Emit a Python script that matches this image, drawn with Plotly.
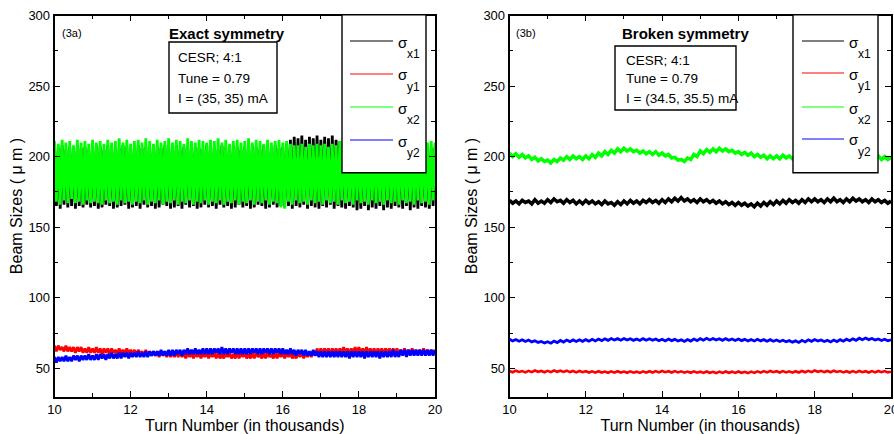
import numpy as np
import plotly.graph_objects as go

W, H = 894, 434

# ---------------- data ----------------
# Panel (3a): turn numbers (thousands), 201 samples between 10 and 20
turns_a = np.linspace(10, 20, 201)
sx1_a = [207,165,206,163,208,166,205,164,207,165,206,163,208,165,206,164,207,166,205,164,
         206,165,208,163,207,164,205,166,208,165,206,163,207,164,206,165,208,166,207,163,
         205,164,207,165,208,163,206,166,207,164,205,165,208,163,207,164,206,166,208,165,
         207,163,206,164,208,165,205,163,207,166,206,164,208,165,207,163,206,164,205,166,
         208,164,206,165,207,163,205,166,208,164,207,165,206,163,208,164,207,166,205,164,
         207,165,206,163,208,164,207,166,205,165,208,163,206,164,207,166,208,164,206,165,
         207,164,209,165,212,163,214,165,213,164,215,166,212,163,214,165,213,164,215,163,
         212,165,214,164,213,166,215,163,212,165,211,164,208,163,207,165,206,164,208,162,
         207,163,206,165,208,162,207,164,205,163,208,165,207,162,206,164,208,163,207,165,
         206,164,208,163,207,165,206,162,208,164,207,163,206,165,208,164,207,163,206,165,
         207]
sy1_a = [66,62,66,63,65,62,66,62,65,62,65,61,65,62,65,61,64,61,65,61,
         64,61,65,61,64,60,64,61,64,60,64,61,63,60,64,60,63,60,64,60,
         63,60,63,59,63,60,62,59,63,59,62,59,62,59,62,58,62,59,62,58,
         62,58,61,58,62,58,61,58,61,57,61,58,61,57,61,58,61,57,61,58,
         61,57,61,58,61,57,61,57,60,57,61,58,61,57,60,57,61,57,61,58,
         61,57,60,57,61,57,61,58,60,57,61,57,61,58,60,57,61,57,61,58,
         61,57,61,58,61,57,60,57,61,58,61,57,61,58,61,58,62,59,64,60,
         64,60,64,61,64,60,64,61,64,60,64,61,65,61,64,60,64,61,65,61,
         65,61,64,60,65,61,64,61,64,60,64,61,64,60,64,61,64,60,64,60,
         64,60,63,60,64,60,63,60,64,60,63,60,63,60,64,60,63,60,63,60,
         63]
sx2_a = [211,168,209,166,212,169,210,167,211,170,208,167,212,168,210,166,211,169,209,167,
         212,168,210,167,211,166,209,169,212,167,210,168,211,166,213,169,210,167,212,168,
         209,166,211,168,212,167,210,169,213,166,211,168,209,167,212,169,210,166,211,168,
         213,167,210,169,212,166,211,168,209,167,213,169,211,166,210,168,212,167,211,169,
         210,166,212,168,211,167,213,169,210,166,212,168,209,167,211,169,212,166,210,168,
         211,167,213,169,210,166,212,168,211,167,209,169,212,166,210,168,211,167,212,164,
         210,163,211,168,209,166,208,169,208,167,209,168,207,166,209,169,208,167,209,168,
         208,166,209,169,207,167,209,168,208,166,211,169,212,167,210,168,211,166,212,169,
         210,167,211,168,212,166,209,169,211,167,212,168,210,166,211,169,212,167,210,168,
         211,166,212,169,210,167,211,168,212,166,209,169,211,167,212,168,210,166,211,169,
         210]
sy2_a = [58,54,58,55,58,55,59,55,58,55,59,56,59,55,59,56,59,56,60,56,
         59,56,60,56,60,57,60,56,60,57,61,57,60,57,61,57,61,58,61,57,
         61,58,61,58,62,58,61,58,62,58,62,59,62,59,62,59,63,59,62,59,
         63,59,63,59,63,60,63,59,63,60,64,60,63,60,64,60,63,60,64,60,
         64,60,64,60,64,61,64,60,65,60,64,60,64,61,64,60,64,60,64,60,
         64,60,64,60,64,61,64,60,64,60,64,61,64,60,64,60,64,61,64,60,
         64,60,63,60,64,60,63,59,63,60,63,59,63,59,62,59,63,59,62,58,
         62,58,62,58,62,58,62,58,62,58,62,58,62,58,62,57,62,58,62,58,
         62,58,62,57,62,58,62,58,62,58,62,57,62,58,62,58,62,58,63,58,
         62,58,63,59,63,58,63,59,63,59,63,59,63,59,63,59,63,59,63,59,
         63]

# Panel (3b): 121 samples between 10 and 20
turns_b = np.linspace(10, 20, 121)
sx1_b = [169.0,167.0,168.5,166.5,169.0,167.5,168.5,166.5,169.5,167.0,168.5,167.0,
         169.5,167.5,170.0,168.0,169.0,167.0,169.5,167.5,169.0,166.5,168.5,166.5,
         169.0,167.0,168.5,166.5,168.0,166.0,168.5,166.5,167.5,165.5,168.0,166.0,
         168.5,166.5,169.0,167.0,168.5,166.5,169.0,167.5,169.5,167.5,169.0,167.0,
         169.5,167.5,170.0,168.0,170.5,168.5,171.0,168.5,170.0,168.0,169.5,167.5,
         170.0,168.0,169.5,167.5,169.0,167.0,168.5,166.5,168.0,166.0,167.5,165.5,
         167.5,165.5,167.0,165.0,166.5,164.5,167.0,165.0,167.5,165.5,168.0,166.0,
         168.5,166.5,169.0,167.0,169.5,167.5,169.0,167.0,169.5,167.5,170.0,168.0,
         170.0,168.0,169.5,167.5,170.0,168.0,170.5,168.0,169.5,167.5,170.0,168.0,
         170.5,168.5,170.0,168.0,169.5,167.5,170.0,168.0,169.5,167.5,169.0,167.0,
         168.5]
sy1_b = [48.1,47.2,48.3,47.4,48.0,47.1,48.2,47.3,48.4,47.5,48.1,47.2,
         48.2,47.3,48.4,47.5,48.3,47.4,48.3,47.3,48.1,47.1,48.1,47.2,
         47.9,47.0,47.8,46.9,47.9,47.0,47.7,46.8,47.8,46.9,47.9,47.0,
         47.7,46.8,47.8,46.9,47.6,46.7,47.8,46.9,47.9,47.0,48.0,47.1,
         48.1,47.2,47.9,47.0,48.0,47.1,47.8,46.9,47.7,46.8,47.8,46.9,
         47.6,46.7,47.7,46.8,47.5,46.6,47.6,46.7,47.7,46.8,47.6,46.7,
         47.7,46.8,47.5,46.6,47.6,46.7,47.8,46.9,48.0,47.1,48.1,47.2,
         47.9,47.0,48.0,47.1,47.8,46.9,47.9,47.0,48.1,47.2,48.2,47.3,
         48.4,47.5,48.2,47.3,48.1,47.2,48.3,47.4,48.0,47.1,47.9,47.0,
         48.0,47.1,48.1,47.2,47.9,47.0,48.0,47.1,48.1,47.2,48.0,47.1,
         47.6]
sx2_b = [202.5,200.0,202.0,199.5,201.5,199.0,200.5,198.0,199.5,197.0,198.5,196.5,
         197.5,195.5,198.0,196.5,199.0,197.5,200.0,198.0,200.5,198.5,200.0,198.0,
         200.5,198.5,201.5,199.5,202.5,200.5,203.5,201.5,204.5,202.5,205.5,203.5,
         206.0,204.0,205.5,203.5,204.5,202.5,204.0,202.0,203.5,201.5,203.5,201.0,
         202.5,200.5,201.5,199.0,199.5,197.5,198.0,196.5,199.0,198.0,201.5,200.0,
         204.0,202.0,205.0,203.0,205.5,203.5,206.0,204.0,205.5,203.5,204.5,202.5,
         203.5,201.5,203.0,201.0,202.5,200.0,201.5,199.5,201.0,198.5,200.5,198.5,
         200.5,198.5,201.0,199.0,200.5,198.5,201.0,199.0,200.5,198.5,201.0,199.0,
         201.0,199.0,200.5,198.5,201.0,199.0,201.5,199.5,201.0,199.0,200.5,198.5,
         201.0,199.0,201.5,199.5,201.0,198.5,200.5,198.5,200.5,198.0,200.0,198.0,
         199.5]
sy2_b = [70.5,69.3,70.4,69.2,70.2,69.0,70.0,68.7,69.5,68.3,69.0,67.9,
         68.8,67.8,69.3,68.2,69.7,68.6,70.0,68.9,70.1,69.0,70.2,69.1,
         70.3,69.2,70.5,69.4,70.7,69.6,70.9,69.8,71.1,70.0,71.0,69.9,
         71.1,70.0,70.9,69.8,70.8,69.7,71.0,69.9,70.9,69.8,70.7,69.5,
         70.6,69.4,70.7,69.6,70.5,69.3,70.2,69.0,70.4,69.3,70.7,69.6,
         71.0,69.9,71.2,70.1,71.1,70.0,70.9,69.8,71.0,69.9,70.8,69.7,
         70.7,69.6,70.5,69.4,70.4,69.3,70.5,69.4,70.3,69.2,70.3,69.2,
         70.1,69.0,69.9,68.8,69.6,68.5,69.4,68.3,69.8,68.7,70.2,69.1,
         70.4,69.3,70.1,69.0,69.8,68.7,70.0,68.9,70.3,69.2,70.6,69.5,
         70.9,69.8,71.3,70.2,71.4,70.3,71.1,70.0,70.8,69.7,70.6,69.5,
         70.2]

series_sub = ["x1", "y1", "x2", "y2"]
series_colors = ["#000000", "#ff0000", "#00ff00", "#0000ff"]

x_ticks = [10, 12, 14, 16, 18, 20]
y_ticks = [50, 100, 150, 200, 250, 300]

# ---------------- figure ----------------
FONT = "Liberation Sans, Arial, sans-serif"

def fx(p):
    return p / W

def fy(p):
    return 1 - p / H

fig = go.Figure()

panel_a = [sx1_a, sy1_a, sx2_a, sy2_a]
panel_b = [sx1_b, sy1_b, sx2_b, sy2_b]
widths_b = [3.5, 2.6, 3.5, 2.8]
for vals, sub, col in zip(panel_a, series_sub, series_colors):
    fig.add_trace(go.Scatter(x=turns_a, y=vals, mode="lines", name="σ" + sub,
                             line=dict(color=col, width=2.8), xaxis="x", yaxis="y",
                             showlegend=False))
for vals, sub, col, w in zip(panel_b, series_sub, series_colors, widths_b):
    fig.add_trace(go.Scatter(x=turns_b, y=vals, mode="lines", name="σ" + sub,
                             line=dict(color=col, width=w), xaxis="x2", yaxis="y2",
                             showlegend=False))

xdom_a = [fx(54.5), fx(435)]
xdom_b = [fx(509.5), fx(891)]
ydom = [fy(396.5), fy(15.5)]

def xaxis_cfg(dom, anchor):
    return dict(domain=dom, anchor=anchor, range=[10, 20], tickvals=x_ticks,
                automargin=False, ticklabeloverflow="allow",
                showline=True, linecolor="black", linewidth=1.6, mirror="ticks",
                ticks="inside", ticklen=6, tickwidth=1.3, tickcolor="black",
                minor=dict(ticks="inside", ticklen=4, tickwidth=1.2, tickcolor="black", dtick=1),
                showgrid=False, zeroline=False,
                tickfont=dict(family=FONT, size=13, color="black"),
                title=dict(text="Turn Number (in thousands)", standoff=1,
                           font=dict(family=FONT, size=16, color="black")))

def yaxis_cfg(anchor):
    return dict(domain=ydom, anchor=anchor, range=[30, 300], tickvals=y_ticks,
                automargin=False, ticklabeloverflow="allow",
                showline=True, linecolor="black", linewidth=1.6, mirror="ticks",
                ticks="inside", ticklen=6, tickwidth=1.3, tickcolor="black",
                minor=dict(ticks="inside", ticklen=4, tickwidth=1.2, tickcolor="black",
                           tickvals=[75, 125, 175, 225, 275]),
                showgrid=False, zeroline=False,
                tickfont=dict(family=FONT, size=13, color="black"),
                title=dict(text="Beam Sizes ( μ m )", standoff=2,
                           font=dict(family=FONT, size=16, color="black")))

fig.update_layout(
    width=W, height=H,
    margin=dict(l=0, r=0, t=0, b=0),
    paper_bgcolor="white", plot_bgcolor="white",
    showlegend=False,
    xaxis=xaxis_cfg(xdom_a, "y"), yaxis=yaxis_cfg("x"),
    xaxis2=xaxis_cfg(xdom_b, "y2"), yaxis2=yaxis_cfg("x2"),
)

annots = []
shapes = []

def add_panel_text(tag, tag_x, title, title_x, box, lines, line_x, line_ys):
    annots.append(dict(text=tag, x=fx(tag_x), y=fy(33), xref="paper", yref="paper",
                       xanchor="left", yanchor="middle", showarrow=False,
                       font=dict(family=FONT, size=11, color="black")))
    annots.append(dict(text="<b>%s</b>" % title, x=fx(title_x), y=fy(33), xref="paper", yref="paper",
                       xanchor="center", yanchor="middle", showarrow=False,
                       font=dict(family=FONT, size=15, color="black")))
    shapes.append(dict(type="rect", xref="paper", yref="paper",
                       x0=fx(box[0]), x1=fx(box[1]), y0=fy(box[3]), y1=fy(box[2]),
                       line=dict(color="black", width=1.4), fillcolor="white", layer="above"))
    for t, yy in zip(lines, line_ys):
        annots.append(dict(text=t, x=fx(line_x), y=fy(yy), xref="paper", yref="paper",
                           xanchor="left", yanchor="middle", showarrow=False,
                           font=dict(family=FONT, size=13.5, color="black")))

def add_legend(box, line_x0, line_x1, sigma_x, sub_x, item_ys):
    shapes.append(dict(type="rect", xref="paper", yref="paper",
                       x0=fx(box[0]), x1=fx(box[1]), y0=fy(box[3]), y1=fy(box[2]),
                       line=dict(color="black", width=1.4), fillcolor="white", layer="above"))
    for sub, col, yy in zip(series_sub, series_colors, item_ys):
        shapes.append(dict(type="line", xref="paper", yref="paper",
                           x0=fx(line_x0), x1=fx(line_x1), y0=fy(yy), y1=fy(yy),
                           line=dict(color=col, width=1.2), layer="above"))
        annots.append(dict(text="σ", x=fx(sigma_x), y=fy(yy + 1), xref="paper", yref="paper",
                           xanchor="left", yanchor="middle", showarrow=False,
                           font=dict(family=FONT, size=15, color="black")))
        annots.append(dict(text=sub, x=fx(sub_x), y=fy(yy + 13), xref="paper", yref="paper",
                           xanchor="left", yanchor="middle", showarrow=False,
                           font=dict(family=FONT, size=12, color="black")))

add_panel_text("(3a)", 60, "Exact symmetry", 227, (169, 277, 42, 113),
               ["CESR; 4:1", "Tune = 0.79", "I = (35, 35) mA"], 176, [57, 79, 99])
add_panel_text("(3b)", 514, "Broken symmetry", 685, (615, 736, 46, 110),
               ["CESR; 4:1", "Tune = 0.79", "I = (34.5, 35.5) mA"], 624, [60, 79, 98])
add_legend((342, 426, 14.7, 172.7), 350, 393, 395.5, 404.5, [41, 74, 107, 140])
add_legend((793, 878, 14.7, 172.7), 802, 844, 846.5, 855.5, [41, 73, 107, 139])

fig.update_layout(annotations=annots, shapes=shapes)
fig.write_html("out.html", config={"displayModeBar": False},
               post_script="document.body.style.margin='0px';document.body.style.padding='0px';")
